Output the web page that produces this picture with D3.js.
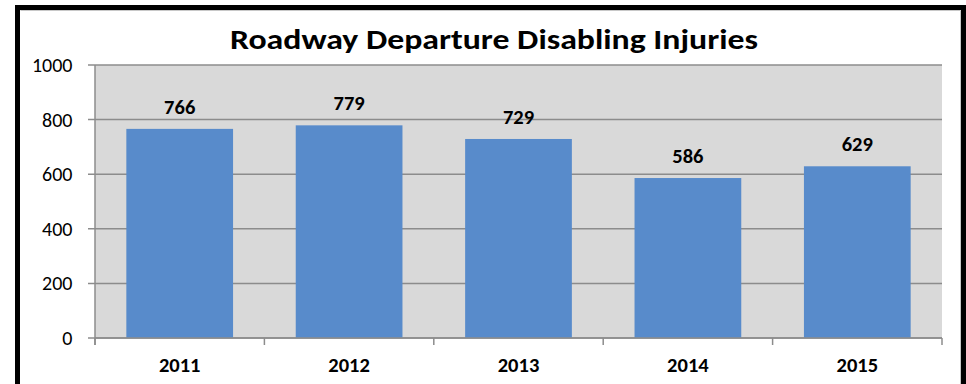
<!DOCTYPE html>
<html><head><meta charset="utf-8">
<script src="https://cdn.jsdelivr.net/npm/d3@7"></script>
<style>body{margin:0;background:#fff}svg{display:block}</style>
</head><body>
<svg id="c" width="966" height="384"></svg>
<script>
const categories = ["2011","2012","2013","2014","2015"];
const values = [766, 779, 729, 586, 629];
const yTicks = [0, 200, 400, 600, 800, 1000];
const title = "Roadway Departure Disabling Injuries";

const svg = d3.select("#c");
const m = {left:95, right:942, top:65, bottom:338};
const font = "Carlito, Calibri, 'Open Sans', 'Liberation Sans', sans-serif";

svg.append("rect").attr("x",17.5).attr("y",7.5).attr("width",946).attr("height",400)
  .attr("fill","#fff").attr("stroke","#000").attr("stroke-width",5);
svg.append("path").attr("d","M20.5,10.5H960.5V384").attr("fill","none").attr("stroke","#c8c8c8").attr("stroke-width",1);

const x = d3.scaleBand().domain(categories).range([m.left, m.right]).paddingInner(0.37).paddingOuter(0.185);
const xb = d3.scaleBand().domain(categories).range([m.left, m.right]);
const y = d3.scaleLinear().domain([0,1000]).range([m.bottom, m.top]);

svg.append("rect").attr("x",m.left).attr("y",m.top).attr("width",m.right-m.left).attr("height",m.bottom-m.top).attr("fill","#d9d9d9");

svg.append("g").selectAll("line").data(yTicks).join("line")
  .attr("x1",m.left-7).attr("x2",m.right).attr("y1",d=>y(d)).attr("y2",d=>y(d))
  .attr("stroke","#8c8c8c").attr("stroke-width",1.5);
svg.append("line").attr("x1",m.left).attr("x2",m.left).attr("y1",m.top).attr("y2",m.bottom+7)
  .attr("stroke","#8c8c8c").attr("stroke-width",1.5);

svg.append("g").selectAll("line").data(categories.concat(["end"])).join("line")
  .attr("x1",(d,i)=>m.left+i*xb.bandwidth()).attr("x2",(d,i)=>m.left+i*xb.bandwidth())
  .attr("y1",m.bottom).attr("y2",m.bottom+7).attr("stroke","#8c8c8c").attr("stroke-width",1.5);

svg.append("g").selectAll("rect").data(values).join("rect")
  .attr("x",(d,i)=>x(categories[i])).attr("width",x.bandwidth())
  .attr("y",d=>y(d)).attr("height",d=>y(0)-y(d)).attr("fill","#588bcb");

svg.append("line").attr("x1",m.left).attr("x2",m.right).attr("y1",m.bottom).attr("y2",m.bottom)
  .attr("stroke","#8c8c8c").attr("stroke-width",1.5);

svg.append("g").selectAll("text").data(yTicks).join("text")
  .attr("x",72.5).attr("y",d=>y(d)+7).attr("text-anchor","end")
  .attr("font-family",font).attr("font-size",20).attr("fill","#000").text(d=>d);

svg.append("g").selectAll("text").data(categories).join("text")
  .attr("x",d=>xb(d)+xb.bandwidth()/2).attr("y",372).attr("text-anchor","middle")
  .attr("font-family",font).attr("font-size",20.5).attr("font-weight","bold").attr("fill","#000").text(d=>d);

svg.append("g").selectAll("text").data(values).join("text")
  .attr("x",(d,i)=>x(categories[i])+x.bandwidth()/2).attr("y",d=>y(d)-15)
  .attr("text-anchor","middle").attr("font-family",font).attr("font-size",20.5).attr("font-weight","bold")
  .attr("fill","#000").text(d=>d);

svg.append("text").attr("x",494).attr("y",49).attr("text-anchor","middle")
  .attr("font-family",font).attr("font-size",29).attr("font-weight","bold")
  .attr("textLength",528).attr("lengthAdjust","spacingAndGlyphs").text(title);
</script>
</body></html>
